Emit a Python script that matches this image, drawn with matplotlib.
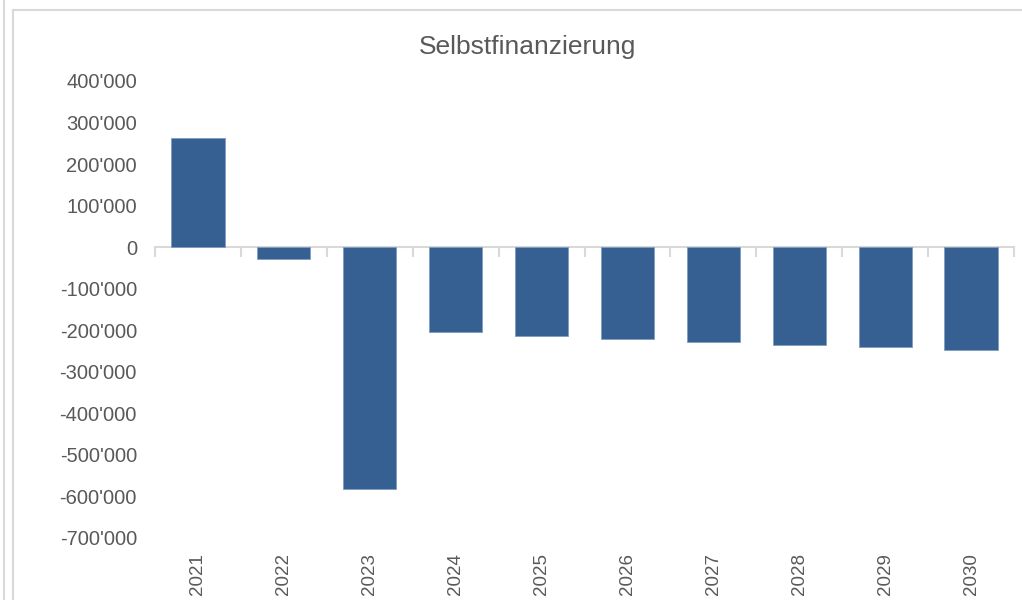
import matplotlib
matplotlib.use("Agg")
import matplotlib.pyplot as plt
from matplotlib.lines import Line2D
from matplotlib import font_manager

years = ["2021", "2022", "2023", "2024", "2025", "2026", "2027", "2028", "2029", "2030"]
values = [263000, -29000, -583000, -205000, -214000, -222000, -229000, -236000, -241000, -247000]
yticks = [400000, 300000, 200000, 100000, 0, -100000, -200000, -300000, -400000, -500000, -600000, -700000]

names = {f.name for f in font_manager.fontManager.ttflist}
fam = ["Liberation Sans Narrow", "Liberation Sans", "DejaVu Sans"]
fam = [f for f in fam if f in names] or ["DejaVu Sans"]
plt.rcParams["font.family"] = fam

txt = "#595959"
grid = "#d9d9d9"
bar_c = "#366092"

fig = plt.figure(figsize=(10.22, 6), dpi=100)
ax = fig.add_axes([155/1022, 1-538/600, (1014-155)/1022, (538-81)/600])

x = list(range(len(years)))
ax.bar(x, values, width=0.62, color=bar_c, edgecolor="#7f9cc0", linewidth=0.6, zorder=3)

ax.set_xlim(-0.5, len(years) - 0.5)
ax.set_ylim(-700000, 400000)
ax.set_yticks(yticks)
ax.set_yticklabels([f"{v:,}".replace(",", "'") for v in yticks])
ax.tick_params(axis="y", length=0, pad=13, labelsize=14.5, labelcolor=txt)

for s in ["left", "right", "top"]:
    ax.spines[s].set_visible(False)
ax.spines["bottom"].set_position(("data", 0))
ax.spines["bottom"].set_color(grid)
ax.spines["bottom"].set_linewidth(1.5)
ax.spines["bottom"].set_zorder(2)
ax.set_xticks([i - 0.5 for i in range(len(years) + 1)])
ax.set_xticklabels([])
ax.tick_params(axis="x", direction="out", length=7, width=1.5, color=grid)

sec = ax.secondary_xaxis(0.0)
sec.set_xticks(x)
sec.set_xticklabels(years, rotation=90)
sec.tick_params(length=0, pad=11, labelsize=13.5, labelcolor=txt)
sec.spines["bottom"].set_visible(False)

fig.text(528/1022, 1-47/600, "Selbstfinanzierung", ha="center", va="center",
         fontsize=19, color=txt)

fig.add_artist(Line2D([4/1022, 4/1022], [0, 1], transform=fig.transFigure, color=grid, lw=1.5))
fig.add_artist(Line2D([13/1022, 13/1022], [0, 1-10/600], transform=fig.transFigure, color=grid, lw=1.5))
fig.add_artist(Line2D([13/1022, 1], [1-10/600, 1-10/600], transform=fig.transFigure, color=grid, lw=1.5))

fig.savefig("out.png", dpi=100)
